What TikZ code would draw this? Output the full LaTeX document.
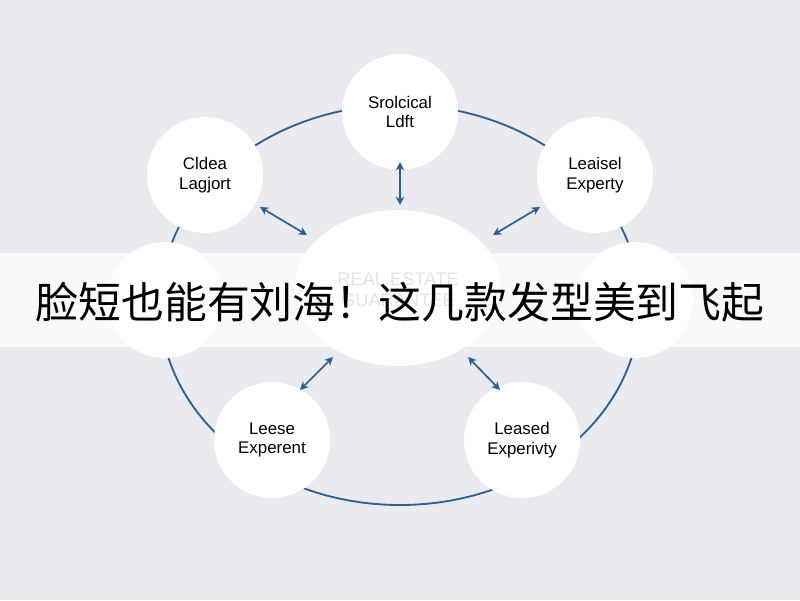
\documentclass[tikz,border=0pt]{standalone}
\usepackage{fontspec}
\setmainfont{Liberation Sans}
\newfontfamily\cjk{Noto Sans CJK SC}
\usetikzlibrary{arrows.meta,positioning,shapes.geometric}
\definecolor{ringblue}{HTML}{2F5F8F}
\definecolor{bggray}{HTML}{E9EBF0}
\begin{document}
\begin{tikzpicture}[
  x=0.025cm, y=-0.025cm,
  font=\fontsize{12}{14}\selectfont,
  >={Stealth[length=6pt,width=6pt]},
  sat/.style={circle, fill=white, minimum size=116*0.025cm, inner sep=0pt, align=center},
  link/.style={<->, draw=ringblue, line width=1.2pt},
]
\fill[bggray] (0,0) rectangle (800,600);
\useasboundingbox (0,0) rectangle (800,600);

% ring and hub
\draw[ringblue, line width=1.3pt] (400,305) ellipse [x radius=240, y radius=200];
\node[ellipse, fill=white, minimum width=206*0.025cm, minimum height=156*0.025cm] (hub) at (398,288) {};
\node[text=gray!70, align=center, font=\fontsize{13}{15}\selectfont] (hubtext) at (398,290) {REAL ESTATE\\GUARANTEE};

% satellites
\node[sat] (top) at (400,112) {Srolcical\\Ldft};
\node[sat] (ul) at (205,175) {Cldea\\Lagjort};
\node[sat] (ur) at (595,175) {Leaisel\\Experty};
\node[sat] (lt) at (165,300) {};
\node[sat] (rt) at (635,300) {};
\node[sat] (bl) at (272,440) {Leese\\Experent};
\node[sat] (br) at (522,440) {Leased\\Experivty};

% links
\coordinate (t1) at (400,162); \coordinate (t2) at (400,205);
\coordinate (a1) at (260,207); \coordinate (a2) at (307,235);
\coordinate (b1) at (540,207); \coordinate (b2) at (493,235);
\coordinate (c1) at (300,390); \coordinate (c2) at (333,357);
\coordinate (d1) at (500,390); \coordinate (d2) at (468,357);
\draw[link] (t1) -- (t2);
\draw[link] (a1) -- (a2);
\draw[link] (b1) -- (b2);
\draw[link] (c1) -- (c2);
\draw[link] (d1) -- (d2);

% banner
\fill[white, opacity=0.7] (0,253) rectangle (800,347);
\node[font=\cjk\fontsize{30.5}{33}\selectfont] (title) at (400,302) {脸短也能有刘海！这几款发型美到飞起};
\end{tikzpicture}
\end{document}
